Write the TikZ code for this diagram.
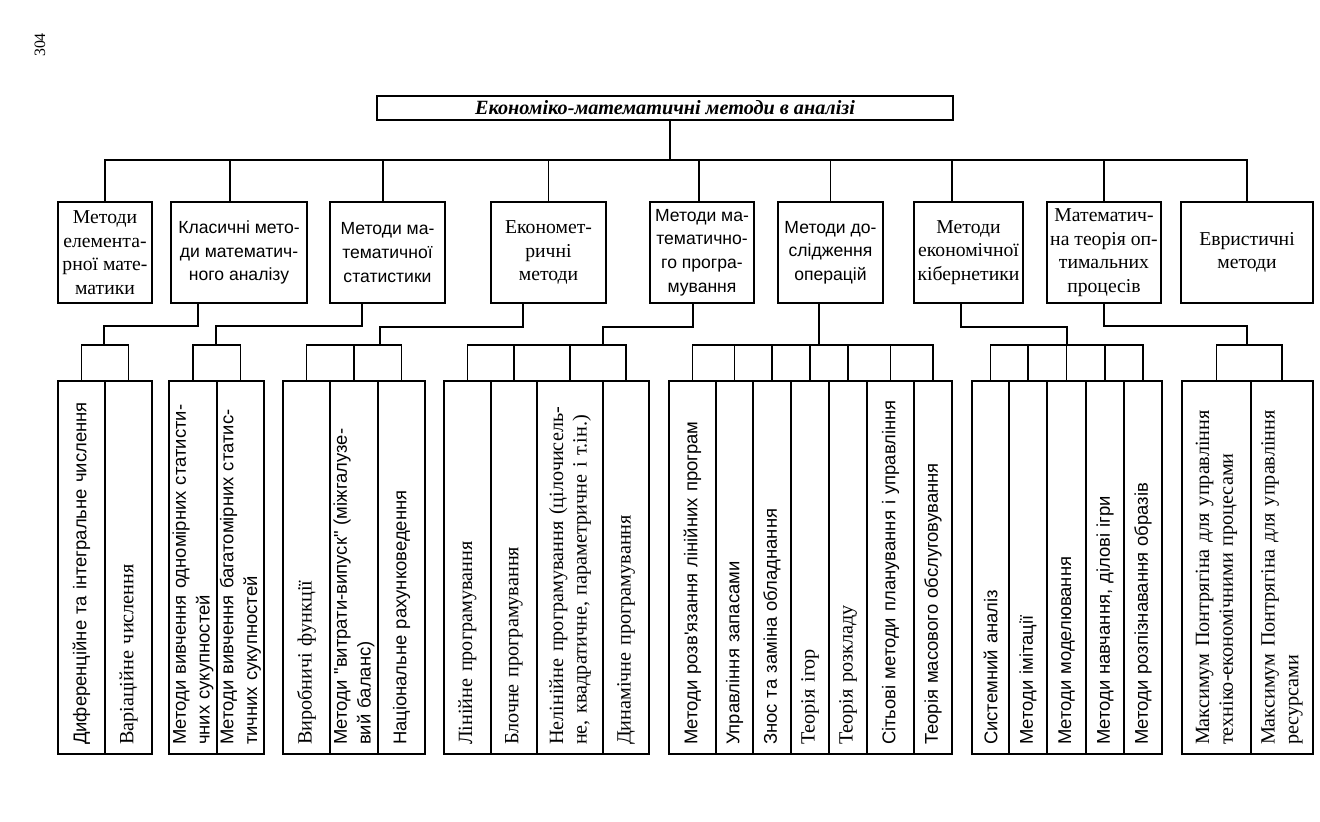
\documentclass[tikz,border=0pt]{standalone}
\usepackage{fontspec}
\setmainfont{Liberation Serif}
\newfontfamily\sansf{Liberation Sans}

\begin{document}
\begin{tikzpicture}[
  x=0.02cm, y=-0.02cm,
  line width=1pt,
  topbox/.style={draw, align=center, minimum height=2.02cm, inner sep=2pt,
                 font=\fontsize{11.2}{13.4}\selectfont},
  topsf/.style={topbox, font=\sansf\fontsize{10}{13.4}\selectfont},
  col/.style={draw, rotate=90, minimum width=7.46cm, text width=7.1cm,
              inner xsep=0.18cm, inner ysep=1pt, align=left,
              font=\fontsize{11.5}{13.5}\selectfont},
  colsf/.style={col, font=\sansf\fontsize{10.5}{13.5}\selectfont},
]
\useasboundingbox (0,0) rectangle (1320,822);

\node[rotate=90, font=\small] (pg) at (40,45) {304};

% title and first level
\node[draw, minimum width=11.52cm, minimum height=0.48cm, inner sep=1pt,
      font=\bfseries\itshape\fontsize{11.5}{13}\selectfont] (title) at (665,108)
      {Економіко-математичні методи в аналізі};
\coordinate (bus) at (670,160);

\node[topbox, minimum width=1.88cm] (m1) at (105,252.5) {Методи\\елемента-\\рної мате-\\матики};
\node[topsf, minimum width=2.72cm] (m2) at (239,252.5) {Класичні мето-\\ди математич-\\ного аналізу};
\node[topsf, minimum width=2.30cm] (m3) at (387.5,252.5) {Методи ма-\\тематичної\\статистики};
\node[topbox, minimum width=2.30cm] (m4) at (548.5,252.5) {Економет-\\ричні\\методи};
\node[topsf, minimum width=2.08cm] (m5) at (702,252.5) {Методи ма-\\тематично-\\го програ-\\мування};
\node[topsf, minimum width=2.10cm] (m6) at (830.5,252.5) {Методи до-\\слідження\\операцій};
\node[topbox, minimum width=2.18cm] (m7) at (968.5,252.5) {Методи\\економічної\\кібернетики};
\node[topbox, minimum width=2.28cm] (m8) at (1104,252.5) {Математич-\\на теорія оп-\\тимальних\\процесів};
\node[topbox, minimum width=2.64cm] (m9) at (1247,252.5) {Евристичні\\методи};

\draw (title.south -| bus) -- (bus);
\draw (m1.north) |- (bus);
\draw ([xshift=-0.18cm]m2.north) |- (bus);
\draw ([xshift=-0.09cm]m3.north) |- (bus);
\draw (m4.north) |- (bus);
\draw ([xshift=-0.06cm]m5.north) |- (bus);
\draw (m6.north) |- (bus);
\draw ([xshift=-0.33cm]m7.north) |- (bus);
\draw (m8.north) |- (bus);
\draw (m9.north) |- (bus);

% second level
\node[colsf, minimum height=0.94cm] (c11) at (81.5,567.5) {Диференційне та інтегральне числення};
\node[col, minimum height=0.94cm] (c12) at (128.5,567.5) {Варіаційне числення};

\node[colsf, minimum height=0.96cm] (c21) at (193,567.5) {Методи вивчення одномірних статисти-\\чних сукупностей};
\node[colsf, minimum height=0.94cm] (c22) at (240.5,567.5) {Методи вивчення багатомірних статис-\\тичних сукупностей};

\node[col, minimum height=0.94cm] (c31) at (306.5,567.5) {Виробничі функції};
\node[colsf, minimum height=0.96cm] (c32) at (354,567.5) {Методи "витрати-випуск" (міжгалузе-\\вий баланс)};
\node[colsf, minimum height=0.94cm] (c33) at (401.5,567.5) {Національне рахунковедення};

\node[col, minimum height=0.94cm] (c41) at (467.5,567.5) {Лінійне програмування};
\node[col, minimum height=0.92cm] (c42) at (514,567.5) {Блочне програмування};
\node[col, minimum height=1.32cm] (c43) at (570,567.5) {Нелінійне програмування (цілочисель-\\не, квадратичне, параметричне і т.ін.)};
\node[col, minimum height=0.92cm] (c44) at (626,567.5) {Динамічне програмування};

\node[colsf, minimum height=0.94cm] (c51) at (692.5,567.5) {Методи розв'язання лінійних програм};
\node[colsf, minimum height=0.74cm] (c52) at (734.5,567.5) {Управління запасами};
\node[colsf, minimum height=0.76cm] (c53) at (772,567.5) {Знос та заміна обладнання};
\node[col, minimum height=0.76cm] (c54) at (810,567.5) {Теорія ігор};
\node[col, minimum height=0.76cm] (c55) at (848,567.5) {Теорія розкладу};
\node[colsf, minimum height=0.94cm] (c56) at (890.5,567.5) {Сітьові методи планування і управління};
\node[colsf, minimum height=0.76cm] (c57) at (933,567.5) {Теорія масового обслуговування};

\node[colsf, minimum height=0.74cm] (c61) at (990.5,567.5) {Системний аналіз};
\node[colsf, minimum height=0.76cm] (c62) at (1028,567.5) {Методи імітації};
\node[colsf, minimum height=0.78cm] (c63) at (1066.5,567.5) {Методи моделювання};
\node[colsf, minimum height=0.76cm] (c64) at (1105,567.5) {Методи навчання, ділові ігри};
\node[colsf, minimum height=0.76cm] (c65) at (1143,567.5) {Методи розпізнавання образів};

\node[col, minimum height=1.38cm] (c71) at (1216.5,567.5) {Максимум Понтрягіна для управління\\техніко-економічними процесами};
\node[col, minimum height=1.24cm] (c72) at (1282,567.5) {Максимум Понтрягіна для управління\\ресурсами};

% branch points
\coordinate (k1) at (104,345);
\coordinate (k2) at (216,345);
\coordinate (k3) at (380,345);
\coordinate (k4) at (603,345);
\coordinate (k5) at (819,345);
\coordinate (k6) at (1067,345);
\coordinate (k7) at (1247,345);

\draw ([xshift=-0.82cm]m2.south) -- ++(0,22) -| (k1);
\draw ([xshift=-0.51cm]m3.south) -- ++(0,22) -| (k2);
\draw ([xshift=-0.51cm]m4.south) -- ++(0,23) -| (k3);
\draw ([xshift=-0.18cm]m5.south) -- ++(0,23) -| (k4);
\draw ([xshift=-0.23cm]m6.south) -- (k5);
\draw ([xshift=-0.15cm]m7.south) -- ++(0,23) -| (k6);
\draw (m8.south) -- ++(0,22) -| (k7);

\draw (c11.east) |- (k1) -| (c12.east);
\draw (c21.east) |- (k2) -| (c22.east);
\draw (c31.east) |- (k3) -| (c33.east);
\draw (c41.east) |- (k4) -| (c44.east);
\draw (c51.east) |- (k5) -| (c57.east);
\draw (c61.east) |- (k6) -| (c65.east);
\draw (c71.east) |- (k7) -| (c72.east);
\foreach \c/\k in {c32/k3, c42/k4, c43/k4, c52/k5, c53/k5, c54/k5, c55/k5, c56/k5,
                   c62/k6, c63/k6, c64/k6}
  \draw (\c.east) -- (\c.east |- \k);
\end{tikzpicture}
\end{document}
